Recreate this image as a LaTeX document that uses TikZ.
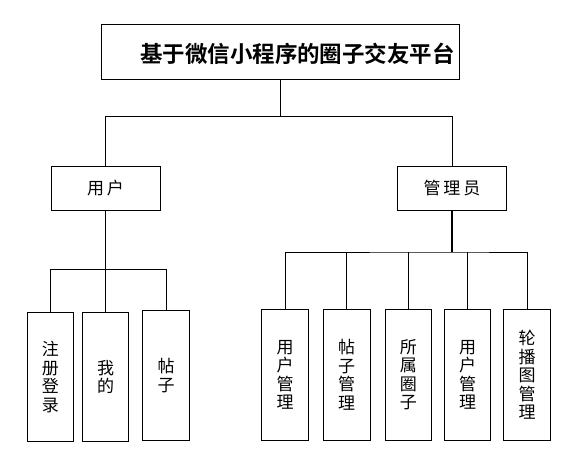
\documentclass[tikz,border=0pt]{standalone}
\usepackage{fontspec}
\setmainfont{Noto Sans CJK SC}[BoldFont={Noto Sans CJK SC Bold}]
\begin{document}
\begin{tikzpicture}[x=1pt,y=-1pt,
  box/.style={draw=black,line width=0.9pt,fill=white,inner sep=0pt,anchor=center},
  topbox/.style={box,minimum width=358pt,minimum height=55pt},
  midbox/.style={box,minimum width=109pt,minimum height=44pt,font=\fontsize{17pt}{18pt}\selectfont},
  leafbox/.style={box,minimum width=46.5pt,minimum height=129.5pt,align=center,font=\fontsize{17pt}{18.5pt}\selectfont},
  link/.style={line width=0.9pt,draw=black},
  thicklink/.style={line width=1.8pt,draw=black}]
\useasboundingbox (0,0) rectangle (579,466);
% top
\node[topbox] (top) at (280,51.5) {};
\node[font=\fontsize{22.5pt}{24pt}\selectfont\bfseries,anchor=center] (title) at (297.5,53.5) {基于微信小程序的圈子交友平台};
% middle
\node[midbox] (user) at (105.5,188) {用\kern3pt 户};
\node[midbox] (admin) at (452,188) {管\kern3pt 理\kern3pt 员};
% user leaves
\node[leafbox] (u1) at (50.3,377) {注\\册\\登\\录};
\node[leafbox] (u2) at (105.5,377) {我\\的};
\node[leafbox] (u3) at (166,375.5) {帖\\子};
% admin leaves
\node[leafbox,minimum height=130.5pt] (a1) at (285,374.8) {用\\户\\管\\理};
\node[leafbox,minimum height=130.5pt] (a2) at (346.7,374.8) {帖\\子\\管\\理};
\node[leafbox,minimum height=130.5pt] (a3) at (408.3,374.8) {所\\属\\圈\\子};
\node[leafbox,minimum height=130.5pt] (a4) at (467.5,374.8) {用\\户\\管\\理};
\node[leafbox,minimum height=130.5pt] (a5) at (527,374.8) {轮\\播\\图\\管\\理};
% junctions
\coordinate (j1) at (280,116.7);
\coordinate (j2) at (105.5,269.3);
\coordinate (j3) at (452,252);
% connectors
\draw[link] (top.south) -- (j1);
\draw[link] (user.north) |- (j1) -| (admin.north);
\draw[link] (user.south) -- (j2);
\draw[link] (u1.north) |- (j2) -| (u3.north);
\draw[link] (u2.north) -- (j2);
\draw[thicklink] (admin.south) -- (j3);
\draw[link] (a1.north) |- (j3) -| (a5.north);
\draw[link] (a2.north) -- (a2.north |- j3);
\draw[link] (a3.north) -- (a3.north |- j3);
\draw[link] (a4.north) -- (a4.north |- j3);
\end{tikzpicture}
\end{document}
